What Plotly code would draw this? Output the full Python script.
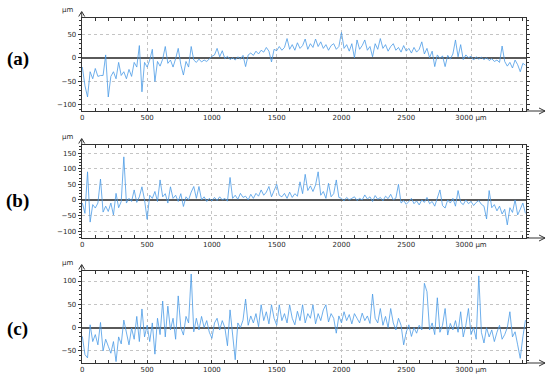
import plotly.graph_objects as go

# ---------------- data ----------------
x_um = list(range(0, 3421, 20))

profile_a = [
    -20, -60, -84, -30, -45, -23, -40, -38, -38, 6, -84, -40, -30, -45, -10, -38, -30, -45, -25, -40,
    -10, -20, 26, -73, -10, -20, -5, 18, -51, -8, -18, -3, 24, -12, -5, -20, -2, 20, -15, -37,
    -8, -20, 24, -5, -10, -3, -9, -5, -8, -2, 3, 6, 20, 2, 15, -2, 3, -4, 0, -5,
    2, -3, 5, -19, 6, 10, 5, 14, 8, 16, 12, 22, 14, -9, 18, 15, 24, 16, 22, 41,
    18, 28, 16, 32, 20, 26, 40, 18, 30, 22, 40, 24, 34, 20, 28, 16, 26, 30, 18, 24,
    54, 20, 28, 14, 30, 0, 38, 18, 26, 38, 16, 24, 2, 30, 18, 41, 20, 28, 14, 24,
    30, 16, 22, 12, 26, 14, 20, 10, 22, 12, 18, 34, 8, 20, 0, 14, -19, 6, -2, 4,
    -19, 5, -3, 8, 38, 2, 28, -4, 6, 0, 3, -5, 2, -3, 1, -4, 0, -6, -2, -8,
    -5, -10, 25, -8, -18, -10, -22, -5, -15, -30, -12, -16,
]

profile_b = [
    -10, -43, 90, -71, -15, -26, -10, 67, -39, -20, -37, -10, -48, 21, -25, -5, 138, -10, 5, -5,
    32, -8, 10, 42, 0, -62, 15, 5, 27, -5, 64, 10, 20, -10, 42, 5, 15, -5, 20, -21,
    10, 0, 25, 43, 5, 43, 0, 10, -5, 5, -3, 8, -2, 10, 0, 5, -4, 72, 5, 15,
    2, 21, 8, 12, 0, 18, 5, 21, 12, 32, 15, 25, 43, 10, 30, 50, 15, 10, 21, 5,
    25, 8, 20, 12, 58, 20, 82, 30, 45, 27, 48, 90, 15, 27, 5, 53, 10, 20, 64, 8,
    5, -3, 8, 0, 5, 10, -2, 5, 0, 16, 3, 10, -5, 14, 2, 8, -3, 12, 4, 18,
    0, 6, 50, -10, -2, -14, -5, 5, -12, -3, -16, 0, -8, 8, -12, -5, -20, 5, 32, -18,
    -26, 0, -10, 5, -20, 30, -8, -15, 0, -12, -5, -18, -8, -2, -14, -20, -61, 30, -25, -15,
    -35, -20, -45, -30, -80, -25, -40, 0, -48, -30, -10, -43,
]

profile_c = [
    -19, -58, -65, 6, -30, -15, -37, 11, -50, -25, -40, -55, -30, -73, -20, -35, 16, -15, -37, -1,
    -25, 24, -30, 40, -20, 5, -30, 10, -57, 20, -15, 57, -20, 46, -5, 20, -25, 68, 0, -16,
    24, 10, 115, -9, 20, -5, 24, 0, 15, -10, -23, 10, 20, -5, 15, 0, -39, 38, -10, -69,
    10, 0, 16, 61, 5, 25, 10, 30, 2, 49, 15, 34, 8, 49, 20, 5, 49, 15, 30, 10,
    49, 20, 6, 35, 15, 49, 10, 30, 20, 49, 8, 30, 15, 38, 49, 12, 30, 20, -12, 25,
    10, 34, 15, 28, 8, 30, 20, 10, 31, 15, 25, 9, 72, 20, 10, 41, 5, 24, 0, 41,
    10, -5, 20, 5, -37, -10, 6, -19, 0, -12, 5, -5, 95, 77, -5, 10, -15, 64, -10, 5,
    41, -16, 9, -5, 15, -10, 34, -20, 5, 41, -15, 0, -25, 111, -10, -33, 0, -20, -5, -30,
    -10, 5, -25, -15, 0, 34, -20, -9, -37, -66, -20, 16,
]

x_tick_vals = [0, 500, 1000, 1500, 2000, 2500, 3000]
x_tick_text = ["0", "500", "1000", "1500", "2000", "2500", "3000 μm"]
y_ticks_a = [-100, -50, 0, 50]
y_ticks_b = [-100, -50, 0, 50, 100, 150]
y_ticks_c = [-50, 0, 50, 100]
panel_labels = ["(a)", "(b)", "(c)"]

# ---------------- layout helpers (pixel geometry of the page) ----------------
W, H = 550, 380
XL, XR = 80, 526


def px(v):
    return v / W


def py(v):
    return 1 - v / H


panels = [
    dict(top=18, bottom=111, zero=57.7, yr=[-114, 85], ticks=y_ticks_a, data=profile_a),
    dict(top=145, bottom=238, zero=200, yr=[-122, 176], ticks=y_ticks_b, data=profile_b),
    dict(top=271, bottom=363, zero=327.7, yr=[-76, 121.5], ticks=y_ticks_c, data=profile_c),
]

AX = "#333333"
GRID = "#c4c4c4"
TICKFONT = dict(family="DejaVu Sans", size=7, color="#2a2a2a")

fig = go.Figure()
shapes = []
annotations = []

for i, p in enumerate(panels):
    n = i + 1
    xa = "x" if n == 1 else f"x{n}"
    ya = "y" if n == 1 else f"y{n}"
    fig.add_trace(go.Scatter(
        x=x_um, y=p["data"], mode="lines",
        line=dict(color="#4a9be6", width=0.8),
        xaxis=xa, yaxis=ya, showlegend=False, hoverinfo="skip",
    ))
    xkey = "xaxis" if n == 1 else f"xaxis{n}"
    ykey = "yaxis" if n == 1 else f"yaxis{n}"
    fig.update_layout({
        xkey: dict(
            domain=[px(XL), px(XR)], range=[-5, 3425], anchor=ya,
            showline=True, linecolor=AX, linewidth=1, mirror="ticks",
            ticks="inside", ticklen=3, tickcolor=AX, tickwidth=1,
            tickvals=x_tick_vals, ticktext=x_tick_text, tickfont=TICKFONT,
            minor=dict(dtick=100, ticks="inside", ticklen=3, tickcolor=AX, showgrid=False),
            showgrid=True, gridcolor=GRID, griddash="dot", gridwidth=1,
            zeroline=False, fixedrange=True,
        ),
        ykey: dict(
            domain=[py(p["bottom"]), py(p["top"])], range=p["yr"], anchor=xa,
            showline=True, linecolor=AX, linewidth=1, mirror="ticks",
            ticks="outside", ticklen=3, tickcolor=AX, tickwidth=1,
            tickvals=p["ticks"], tickfont=TICKFONT,
            minor=dict(dtick=10, ticks="outside", ticklen=2, tickcolor=AX, showgrid=False),
            showgrid=True, gridcolor=GRID, griddash="dot", gridwidth=1,
            zeroline=True, zerolinecolor="#5a5a5a", zerolinewidth=1.6,
            fixedrange=True,
        ),
    })
    # axis arrows
    yb = p["bottom"]
    shapes.append(dict(type="line", xref="paper", yref="paper",
                       x0=px(XR), x1=px(545), y0=py(yb), y1=py(yb),
                       line=dict(color=AX, width=1)))
    shapes.append(dict(type="path", xref="paper", yref="paper",
                       path=f"M {px(539)} {py(yb-3)} L {px(545)} {py(yb)} L {px(539)} {py(yb+3)}",
                       line=dict(color=AX, width=1)))
    yt = p["top"]
    shapes.append(dict(type="line", xref="paper", yref="paper",
                       x0=px(XL), x1=px(XL), y0=py(yt), y1=py(yt - 6),
                       line=dict(color=AX, width=1)))
    shapes.append(dict(type="path", xref="paper", yref="paper",
                       path=f"M {px(XL-3)} {py(yt-1.5)} L {px(XL)} {py(yt-6.5)} L {px(XL+3)} {py(yt-1.5)}",
                       line=dict(color=AX, width=1)))
    annotations.append(dict(text="μm", xref="paper", yref="paper",
                            x=px(66), y=py(yt - 8), showarrow=False,
                            xanchor="center", yanchor="middle",
                            font=dict(family="DejaVu Sans", size=7, color="#2a2a2a")))
    annotations.append(dict(text=f"<b>{panel_labels[i]}</b>", xref="paper", yref="paper",
                            x=px(16), y=py(p["zero"] + 1), showarrow=False,
                            xanchor="center", yanchor="middle",
                            font=dict(family="Liberation Serif", size=19, color="#000000")))

fig.update_layout(
    width=W, height=H, margin=dict(l=0, r=0, t=0, b=0),
    paper_bgcolor="white", plot_bgcolor="white",
    shapes=shapes, annotations=annotations,
)

fig.write_html("out.html", config={"displayModeBar": False},
               post_script="document.body.style.margin='0px';")
